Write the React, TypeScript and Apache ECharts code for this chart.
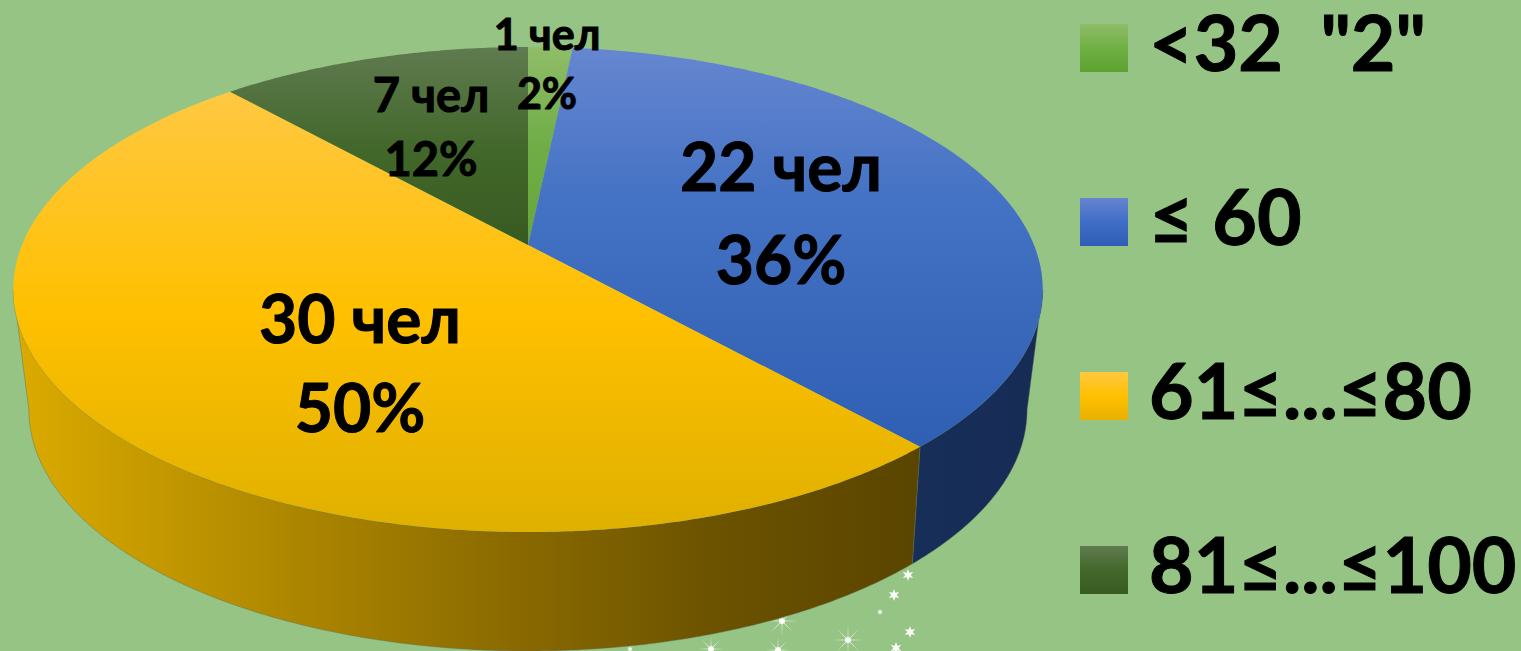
import React, { useEffect, useRef } from "react";
import * as echarts from "echarts";

const categories = ['<32  "2"', "≤ 60", "61≤...≤80", "81≤...≤100"];
const counts = [1, 22, 30, 7];
const percents = [2, 36, 50, 12];

const topStops = [
  ["#8fbd68", "#70ad47", "#66a63a"],
  ["#6686d0", "#4472c4", "#2f5fb3"],
  ["#ffc842", "#ffc000", "#dfb000"],
  ["#5f7b50", "#43682b", "#375a20"],
];
const legendStops = [
  ["#8fbc67", "#70b044", "#5da22f"],
  ["#6584cf", "#3f6ec6", "#2f5db5"],
  ["#ffc840", "#ffc000", "#e8b000"],
  ["#5f7b50", "#43682b", "#375a20"],
];
const FONT = "Lato, 'Open Sans', sans-serif";
const labelLayout = [
  { x: 547, y1: 33, y2: 92, size: 43 },
  { x: 781, y1: 165, y2: 258, size: 66 },
  { x: 360, y1: 317, y2: 406, size: 66 },
  { x: 431, y1: 94, y2: 158, size: 47 },
];

// perspective projection of the pie's circular rims
const CX = 528;
const topRim = { a: 506, c: -189.4, d: 245, k: 0.1835 };
const lowRim = { a: 489, c: -159, d: 361.8, k: 0.2 };
const project = (rim: typeof topRim, deg: number): number[] => {
  const t = (deg * Math.PI) / 180;
  const u = Math.sin(t);
  const v = Math.cos(t);
  const w = 1 + rim.k * v;
  return [CX + (rim.a * u) / w, (rim.c * v + rim.d) / w];
};
const arc = (rim: typeof topRim, from: number, to: number): number[][] => {
  const n = Math.max(2, Math.ceil(Math.abs(to - from) * 2));
  const out: number[][] = [];
  for (let i = 0; i <= n; i++) out.push(project(rim, from + ((to - from) * i) / n));
  return out;
};
const total = counts.reduce((s, c) => s + c, 0);
const startDeg = (i: number) => (counts.slice(0, i).reduce((s, c) => s + c, 0) / total) * 360;
const tangent = (rim: typeof topRim) => (Math.acos(-rim.k) * 180) / Math.PI;

const vGrad = (stops: string[], mid = 0.5) => ({
  type: "linear",
  x: 0,
  y: 0,
  x2: 0,
  y2: 1,
  colorStops: [
    { offset: 0, color: stops[0] },
    { offset: mid, color: stops[1] },
    { offset: 1, color: stops[2] },
  ],
});
const sideFill = [
  null,
  { type: "linear", x: 0, y: 0, x2: 1, y2: 0, colorStops: [{ offset: 0, color: "#172e59" }, { offset: 1, color: "#162c55" }] },
  {
    type: "linear",
    x: 0,
    y: 0,
    x2: 1,
    y2: 0,
    colorStops: [
      { offset: 0, color: "#dcab00" },
      { offset: 0.13, color: "#c89c00" },
      { offset: 0.31, color: "#ad8600" },
      { offset: 0.55, color: "#8a6a00" },
      { offset: 0.78, color: "#6b5200" },
      { offset: 1, color: "#5a4500" },
    ],
  },
  null,
];

const renderItem = (params: any) => {
  const i = params.seriesIndex;
  const s = startDeg(i);
  const e = startDeg(i + 1);
  const children: any[] = [];
  if (sideFill[i]) {
    const range = (rim: typeof topRim) => [Math.max(s, tangent(rim)), Math.min(e, 360 - tangent(rim))];
    const [tf, tt] = range(topRim);
    const [lf, lt] = range(lowRim);
    children.push({
      type: "polygon",
      shape: { points: [...arc(topRim, tf, tt), ...arc(lowRim, lt, lf)] },
      style: { fill: sideFill[i], stroke: "rgba(90,110,90,0.55)", lineWidth: 0.8 },
      z2: 1,
    });
  }
  children.push({
    type: "polygon",
    shape: { points: [[CX, topRim.d], ...arc(topRim, s, e)] },
    style: { fill: vGrad(topStops[i], i === 1 ? 0.38 : 0.5) },
    z2: 2,
  });
  const lay = labelLayout[i];
  const line = (text: string, y: number) => ({
    type: "text",
    x: lay.x,
    y,
    z2: 10,
    style: {
      text,
      fill: "#000",
      stroke: "#000",
      lineWidth: 1,
      font: `bold ${lay.size}px ${FONT}`,
      align: "center",
      verticalAlign: "middle",
    },
  });
  children.push(line(`${counts[i]} чел`, lay.y1), line(`${percents[i]}%`, lay.y2));
  return { type: "group", children };
};

const star = (cx: number, cy: number, R: number, r: number, n: number) => {
  const pts: number[][] = [];
  for (let i = 0; i < n * 2; i++) {
    const a = (i * Math.PI) / n - Math.PI / 2;
    const q = i % 2 ? r : R;
    pts.push([cx + q * Math.cos(a), cy + q * Math.sin(a)]);
  }
  return pts;
};
const raySpecks = [
  [782, 621, 16],
  [848, 640, 16],
  [711, 649, 13],
  [778, 650, 12],
];
const smallSpecks = [
  [908, 575, 6],
  [894, 595, 6],
  [880, 612, 3],
  [910, 632, 6],
  [896, 648, 6],
  [630, 649, 3],
];
const sparkle = [
  ...raySpecks.flatMap(([x, y, R]) => [
    { type: "polygon", silent: true, shape: { points: star(x, y, R, 1.3, 8) }, style: { fill: "rgba(255,255,255,0.75)" } },
    { type: "circle", silent: true, shape: { cx: x, cy: y, r: 3 }, style: { fill: "#fff" } },
  ]),
  ...smallSpecks.map(([x, y, R]) => ({
    type: "polygon",
    silent: true,
    shape: { points: star(x, y, R, R * 0.45, 6) },
    style: { fill: "rgba(255,255,255,0.95)" },
  })),
];

const legendFont = {
  color: "#000",
  fontFamily: FONT,
  fontWeight: "bold",
  fontSize: 77,
  textBorderColor: "#000",
  textBorderWidth: 1,
};

export default function App() {
  const ref = useRef<HTMLDivElement>(null);
  useEffect(() => {
    document.body.style.margin = "0";
    const chart = echarts.init(ref.current!, undefined, { renderer: "svg" });
    chart.setOption({
      animation: false,
      backgroundColor: "#95c484",
      legend: {
        orient: "vertical",
        left: 1080,
        top: 2,
        height: 649,
        padding: 0,
        itemWidth: 48,
        itemHeight: 48,
        itemGap: 96,
        selectedMode: false,
        icon: "rect",
        formatter: (name: string) => `{t|${name}}`,
        textStyle: {
          ...legendFont,
          padding: [0, 0, 14, 16],
          rich: { t: { ...legendFont, lineHeight: 60 } },
        },
        data: categories.map((name, i) => ({
          name,
          icon: "rect",
          itemStyle: { color: vGrad(legendStops[i]) },
        })),
      },
      graphic: { elements: sparkle },
      series: categories.map((name, i) => ({
        type: "custom",
        name,
        coordinateSystem: "none",
        silent: true,
        itemStyle: { color: topStops[i][1] },
        renderItem,
        data: [[counts[i]]],
      })),
    });
    return () => chart.dispose();
  }, []);
  return <div ref={ref} style={{ position: "absolute", left: 0, top: 0, width: 1521, height: 651 }} />;
}
